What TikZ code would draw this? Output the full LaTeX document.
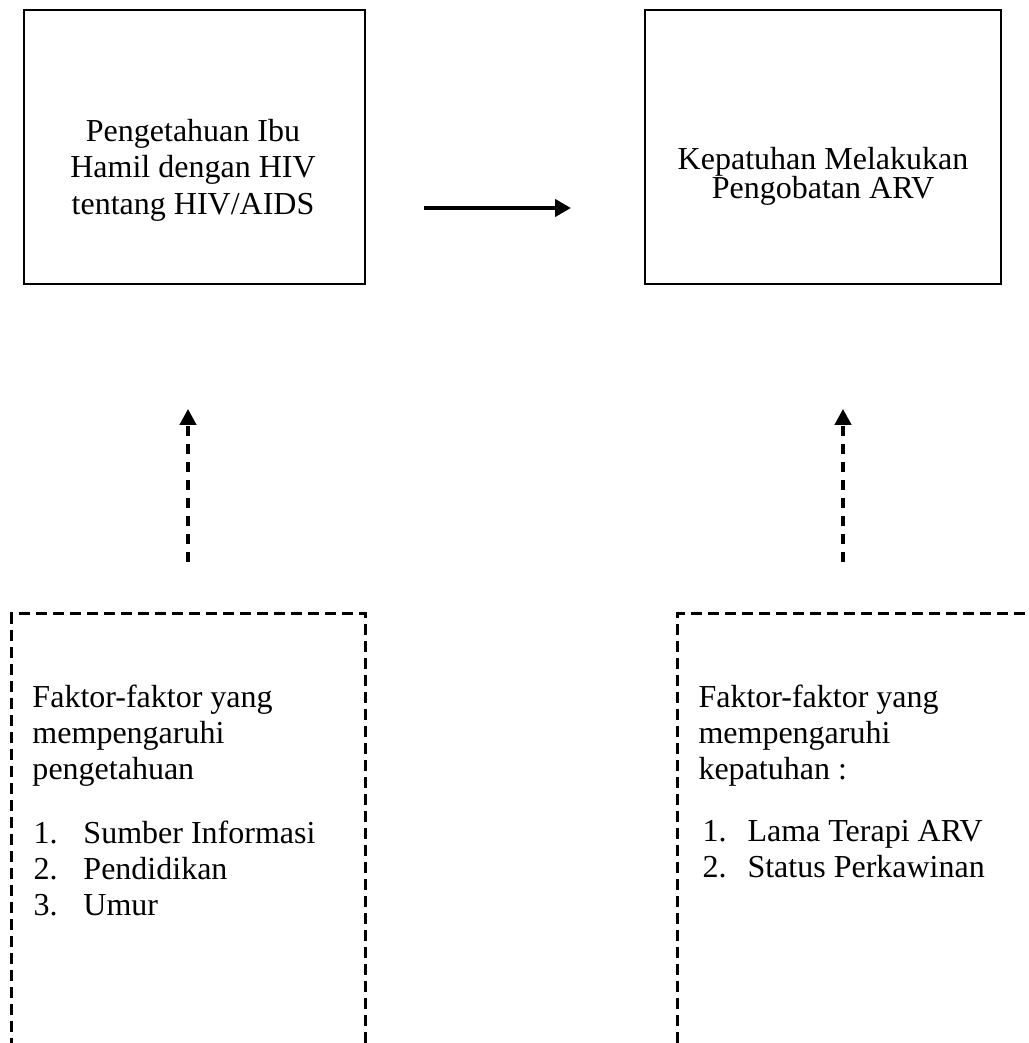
\documentclass[tikz,border=0pt]{standalone}
\usepackage{fontspec}
\setmainfont{Liberation Serif}
\usetikzlibrary{arrows.meta}

\begin{document}
\begin{tikzpicture}[
            x=0.4pt, y=-0.4pt,
            font=\fontsize{12.8}{14.4}\selectfont,
            fw box/.style   ={draw, line width=1pt, inner sep=0pt, minimum height=109.6pt},
            fw dbox/.style  ={draw, line width=1.35pt, dash pattern=on 4.4pt off 2.4pt,
                              inner sep=0pt, anchor=north west, minimum height=200pt},
            fw text/.style  ={inner sep=0pt, anchor=north west, align=left},
            fw main/.style  ={line width=1.6pt, -{Triangle[length=6.4pt,width=6.8pt]}},
            fw dash/.style  ={line width=1.3pt, dash pattern=on 4pt off 3.2pt,
                              -{Triangle[length=6.4pt,width=6.6pt]}}
        ]
        \clip (0,0) rectangle (1028,1043);
        %% --- top row: the two variables ---------------------------------------
        \node[fw box, minimum width=136.4pt] (know) at (194.5,147) {};
        \node[fw box, minimum width=142.4pt] (adh)  at (823,147)   {};
        \node[inner sep=0pt, anchor=north, align=center,
              font=\fontsize{12.8}{14.6}\selectfont] (knowtxt) at (193,118.5)
            {Pengetahuan Ibu\\Hamil dengan HIV\\tentang HIV/AIDS};
        \node[inner sep=0pt, anchor=north, align=center,
              font=\fontsize{12.8}{11.8}\selectfont] (adhtxt) at (823,146.5)
            {Kepatuhan Melakukan\\Pengobatan ARV};
        \coordinate (ms) at (424,208);
        \coordinate (me) at (571,208);
        \draw[fw main] (ms) -- (me);
        %% --- bottom row: the factors, dashed ----------------------------------
        \node[fw dbox, minimum width=141.6pt] (kfac) at (10,612)  {};
        \node[fw dbox, minimum width=170pt]   (afac) at (676,612) {};
        \node[fw text] (kfactxt) at (32,684)
            {Faktor-faktor yang\\mempengaruhi\\pengetahuan};
        \node[fw text] (kfaclist) at (33,820)
            {\makebox[20pt][l]{1.}Sumber Informasi\\
             \makebox[20pt][l]{2.}Pendidikan\\
             \makebox[20pt][l]{3.}Umur};
        \node[fw text] (afactxt) at (698,684)
            {Faktor-faktor yang\\mempengaruhi\\kepatuhan :};
        \node[fw text] (afaclist) at (702,820)
            {\makebox[18pt][l]{1.}Lama Terapi ARV\\
             \makebox[18pt][l]{2.}Status Perkawinan};
        \foreach \n/\x in {k/188, a/843} {
                \coordinate (\n b) at (\x,562);
                \coordinate (\n t) at (\x,409);
                \draw[fw dash] (\n b) -- (\n t);
            }
    \end{tikzpicture}
\end{document}
